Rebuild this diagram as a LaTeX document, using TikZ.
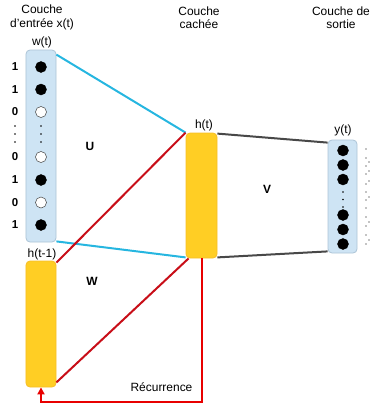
\documentclass[tikz,border=0pt]{standalone}
\usepackage{fontspec}
\setmainfont{Liberation Sans}
\usepackage{xcolor}
\usetikzlibrary{arrows.meta,positioning}
\definecolor{rnnblue}{RGB}{38,182,224}
\definecolor{rnnlightblue}{RGB}{206,228,244}
\definecolor{rnnblueedge}{RGB}{172,196,214}
\definecolor{rnngold}{RGB}{255,206,36}
\definecolor{rnngoldedge}{RGB}{246,190,40}
\definecolor{rnndarkred}{RGB}{200,14,24}
\definecolor{rnnred}{RGB}{232,0,0}
\definecolor{rnngray}{RGB}{72,72,72}
\tikzstyle{layer} = [rectangle, rounded corners=4bp, inner sep=0pt, line width=0.8bp]
\tikzstyle{inputlayer} = [layer, draw=rnnblueedge, fill=rnnlightblue]
\tikzstyle{hiddenlayer} = [layer, draw=rnngoldedge, fill=rnngold]
\tikzstyle{unit} = [circle, minimum size=11bp, inner sep=0pt, draw=black, fill=black]
\tikzstyle{unitoff} = [unit, fill=white, draw=black!75, line width=0.5bp]
\tikzstyle{title} = [align=center]
\tikzstyle{bit} = [font=\fontsize{11.5}{13}\selectfont\bfseries]
\tikzstyle{weight} = [font=\fontsize{12}{13.5}\selectfont\bfseries]
\tikzstyle{wire} = [line width=2bp]

\begin{document}
\begin{tikzpicture}[x=1bp, y=-1bp, font=\fontsize{12}{13.5}\selectfont]
    \useasboundingbox (0,0) rectangle (371,408);

    % layer titles
    \node[title] (tin) at (42,17.5) {Couche\\d'entrée x(t)};
    \node[title] (thid) at (199,17.5) {Couche\\cachée};
    \node[title] (tout) at (341,17.5) {Couche de\\sortie};

    % layers
    \node[inputlayer, minimum width=30bp, minimum height=192bp] (input) at (41,146) {};
    \node[hiddenlayer, minimum width=30bp, minimum height=126bp] (hprev) at (41,324) {};
    \node[hiddenlayer, minimum width=31bp, minimum height=125bp] (hidden) at (201.5,195.5) {};
    \node[inputlayer, minimum width=29bp, minimum height=113bp] (output) at (342.5,196.5) {};

    \node (wt) at (42,42) {w(t)};
    \node (hprevlab) at (42,254) {h(t-1)};
    \node (ht) at (204,125.5) {h(t)};
    \node (yt) at (343,130.5) {y(t)};

    % input units and bits
    \node[unit] (x1) at (41,67) {};
    \node[unit] (x2) at (41,89.5) {};
    \node[unitoff] (x3) at (41,112) {};
    \node[unitoff] (x4) at (41,157) {};
    \node[unit] (x5) at (41,180) {};
    \node[unitoff] (x6) at (41,202.5) {};
    \node[unit] (x7) at (41,225) {};
    \node[bit] (b1) at (15,67) {1};
    \node[bit] (b2) at (15,89.5) {1};
    \node[bit] (b3) at (15,112) {0};
    \node[bit] (b4) at (15,157) {0};
    \node[bit] (b5) at (15,180) {1};
    \node[bit] (b6) at (15,202.5) {0};
    \node[bit] (b7) at (15,225) {1};
    \foreach \y in {126,134,142} {
        \fill (41,\y) circle (0.9bp);
        \fill (15,\y) circle (0.9bp);
    }

    % output units
    \node[unit] (y1) at (343,150.5) {};
    \node[unit] (y2) at (343,165) {};
    \node[unit] (y3) at (343,179.5) {};
    \node[unit] (y4) at (343,215) {};
    \node[unit] (y5) at (343,229.5) {};
    \node[unit] (y6) at (343,244) {};
    \foreach \y in {192,199.5,207}
        \fill (343,\y) circle (0.9bp);
    \foreach \y in {149,158,166,174,184,192,200,208,217,226,235,244}
        \fill (366,\y) circle (0.7bp);
    \foreach \y in {162,171,181,197,222,240}
        \fill (369,\y) circle (0.7bp);

    % weights
    \draw[wire, rnnblue] ([yshift=-5bp]input.north east) -- (hidden.north west);
    \draw[wire, rnnblue] ([yshift=1bp]input.south east) -- ([yshift=1bp]hidden.south west);
    \draw[wire, rnndarkred] ([yshift=-2bp]hprev.north east) -- (hidden.north west);
    \draw[wire, rnndarkred] ([yshift=5bp]hprev.south east) -- ([xshift=3bp]hidden.south west);
    \draw[wire, rnngray] ([yshift=-1bp]hidden.north east) -- ([yshift=-3bp]output.north west);
    \draw[wire, rnngray] ([yshift=1bp]hidden.south east) -- ([yshift=2bp]output.south west);

    \node[weight] (U) at (90,146) {U};
    \node[weight] (V) at (267,189) {V};
    \node[weight] (W) at (92,281) {W};

    % recurrence loop
    \coordinate (loop) at (0,402);
    \draw[wire, rnnred, -{Triangle[length=7bp,width=7bp]}]
        (hidden.south) -- (hidden.south |- loop) -| (hprev.south);
    \node (rec) at (161.5,387.5) {Récurrence};
\end{tikzpicture}
\end{document}
